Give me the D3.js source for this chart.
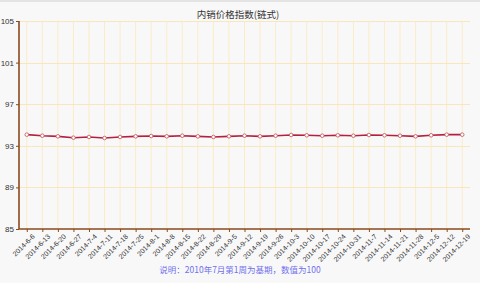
<!DOCTYPE html>
<html>
<head>
<meta charset="utf-8">
<script src="https://cdn.jsdelivr.net/npm/d3@7"></script>
<style>
  html, body { margin: 0; padding: 0; background: #f8f8f8; }
  svg { display: block; }
</style>
</head>
<body>
<svg id="chart" width="480" height="283"></svg>
<script>
const dates = ["2014-6-6", "2014-6-13", "2014-6-20", "2014-6-27", "2014-7-4", "2014-7-11", "2014-7-18",
  "2014-7-25", "2014-8-1", "2014-8-8", "2014-8-15", "2014-8-22", "2014-8-29", "2014-9-5", "2014-9-12",
  "2014-9-19", "2014-9-26", "2014-10-3", "2014-10-10", "2014-10-17", "2014-10-24", "2014-10-31",
  "2014-11-7", "2014-11-14", "2014-11-21", "2014-11-28", "2014-12-5", "2014-12-12", "2014-12-19"];
const values = [94.07, 93.97, 93.91, 93.78, 93.85, 93.75, 93.85, 93.91, 93.94, 93.91, 93.97, 93.91,
  93.85, 93.91, 93.97, 93.91, 93.97, 94.04, 94.01, 93.97, 94.01, 93.97, 94.04, 94.01, 93.97, 93.91,
  94.01, 94.07, 94.07];
const yTicks = [85, 89, 93, 97, 101, 105];
const title = "内销价格指数(链式)";
const note = "说明：2010年7月第1周为基期，数值为100";

const svg = d3.select("#chart");
const plotLeft = 19, plotRight = 470, plotTop = 21, plotBottom = 229;

const x = d3.scalePoint().domain(dates).range([plotLeft, plotRight]).padding(0.5);
const y = d3.scaleLinear().domain([85, 105]).range([plotBottom, plotTop]);

svg.append("rect").attr("x", 0).attr("y", 0).attr("width", 480).attr("height", 2).attr("fill", "#e4e4e4");

// grid
const grid = svg.append("g");
grid.selectAll("line.v").data(dates).enter().append("line")
  .attr("x1", (d) => x(d)).attr("x2", (d) => x(d))
  .attr("y1", plotTop).attr("y2", plotBottom)
  .attr("stroke", "#fbecc8").attr("stroke-width", 1);
grid.selectAll("line.h").data(yTicks.slice(1)).enter().append("line")
  .attr("x1", plotLeft).attr("x2", plotRight)
  .attr("y1", (d) => Math.round(y(d)) + 0.5).attr("y2", (d) => Math.round(y(d)) + 0.5)
  .attr("stroke", "#f8e6bc").attr("stroke-width", 1);

// axes
const yAxis = svg.append("g").attr("transform", `translate(${plotLeft},0)`)
  .call(d3.axisLeft(y).tickValues(yTicks).tickSize(3).tickPadding(2));
const xAxis = svg.append("g").attr("transform", `translate(0,${plotBottom})`)
  .call(d3.axisBottom(x).tickSize(3).tickPadding(2));

[yAxis, xAxis].forEach((a) => {
  a.select(".domain").attr("stroke", "#8b4a1c").attr("stroke-width", 1.6);
  a.selectAll(".tick line").attr("stroke", "#8b4a1c");
  a.selectAll("text").attr("fill", "#333").attr("font-family", "Liberation Sans, Arial, sans-serif");
});
yAxis.select(".domain").attr("d", `M0,${plotTop}H0V${plotBottom}`);
xAxis.select(".domain").attr("d", `M${plotLeft},0H${plotRight}`);
yAxis.selectAll("text").attr("font-size", 8);
xAxis.selectAll("text").attr("font-size", 7)
  .attr("text-anchor", "end")
  .attr("dy", "0.3em")
  .attr("transform", "translate(3,3) rotate(-45)");

// line
const line = d3.line().x((d, i) => x(dates[i])).y((d) => y(d));
svg.append("path").datum(values)
  .attr("d", line)
  .attr("fill", "none")
  .attr("stroke", "#b5203a")
  .attr("stroke-width", 1.6);

svg.selectAll("circle.pt").data(values).enter().append("circle")
  .attr("cx", (d, i) => x(dates[i])).attr("cy", (d) => y(d))
  .attr("r", 1.8)
  .attr("fill", "#fff")
  .attr("stroke", "#c46070")
  .attr("stroke-width", 0.9);

svg.append("text").attr("x", 238).attr("y", 18)
  .attr("text-anchor", "middle")
  .attr("font-family", "Noto Sans CJK SC, sans-serif")
  .attr("font-size", 9.5)
  .attr("fill", "#333")
  .text(title);

svg.append("text").attr("x", 240).attr("y", 273)
  .attr("text-anchor", "middle")
  .attr("font-family", "Noto Sans CJK SC, sans-serif")
  .attr("font-size", 8.5)
  .attr("fill", "#7070ee")
  .text(note);
</script>
</body>
</html>
